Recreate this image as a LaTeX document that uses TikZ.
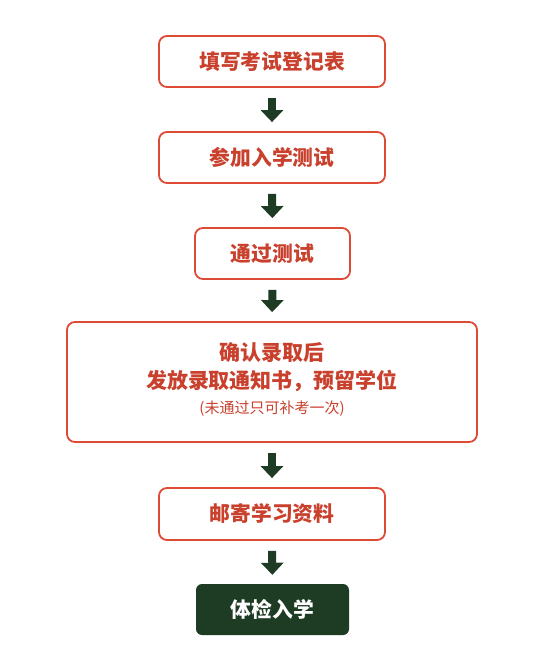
\documentclass[tikz,border=0pt]{standalone}
\usepackage{fontspec}
\newfontfamily\cjk{Noto Sans CJK SC}
\usetikzlibrary{arrows.meta}
\definecolor{boxred}{HTML}{DD4A35}
\definecolor{txtred}{HTML}{C9402D}
\definecolor{dgreen}{HTML}{1E3B24}
\begin{document}
\begin{tikzpicture}[x=1pt,y=-1pt,
  stepbox/.style={draw=boxred, line width=1.8pt, rounded corners=8pt, fill=white,
    text=txtred, font=\cjk\bfseries\fontsize{20.8}{26}\selectfont, align=center, inner sep=0pt},
  finalbox/.style={fill=dgreen, rounded corners=6pt, text=white,
    font=\cjk\bfseries\fontsize{20.8}{26}\selectfont, inner sep=0pt},
  flowarrow/.style={draw=dgreen, line width=8pt, shorten <=10pt, shorten >=9pt,
    -{Triangle[width=22pt,length=12pt]}}]
\useasboundingbox (0,0) rectangle (550,657);
\node[stepbox, minimum width=226pt, minimum height=51pt] (a) at (272,61.5) {填写考试登记表};
\node[stepbox, minimum width=226pt, minimum height=51pt] (b) at (272,157.5) {参加入学测试};
\node[stepbox, minimum width=155pt, minimum height=51pt] (c) at (272.5,253.5) {通过测试};
\node[stepbox, minimum width=410pt, minimum height=120pt] (d) at (272,382) {};
\node[text=txtred, font=\cjk\bfseries\fontsize{21}{28}\selectfont, align=center] (dt) at (272,367) {确认录取后\\发放录取通知书，预留学位};
\node[text=txtred, font=\cjk\fontsize{15}{18}\selectfont] (dn) at (272,408.5) {(未通过只可补考一次)};
\node[stepbox, minimum width=226pt, minimum height=52pt] (e) at (272,514) {邮寄学习资料};
\node[finalbox, minimum width=153pt, minimum height=51pt] (f) at (272.5,609.5) {体检入学};
\draw[flowarrow] (a.south) -- (b.north);
\draw[flowarrow] (b.south) -- (c.north);
\draw[flowarrow] (c.south) -- (d.north);
\draw[flowarrow] (d.south) -- (e.north);
\draw[flowarrow] (e.south) -- (f.north);
\end{tikzpicture}
\end{document}
